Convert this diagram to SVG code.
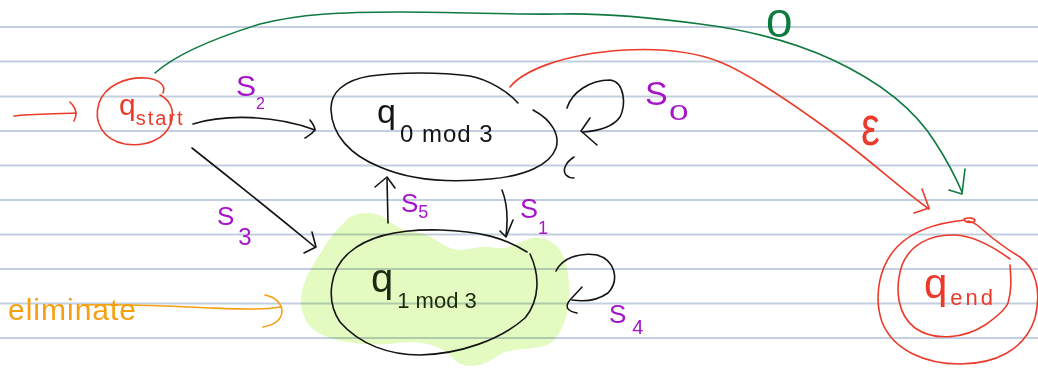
<svg xmlns="http://www.w3.org/2000/svg" width="1038" height="368" viewBox="0 0 1038 368">
  <style>
    .rule { stroke: #c3cfe0; stroke-width: 2; }
    .ink { fill: none; stroke-width: 1.6; stroke-linecap: round; stroke-linejoin: round; }
    .black { stroke: #141414; }
    .red { stroke: #ec3a2a; }
    .green { stroke: #0f7a40; }
    .orange { stroke: #f5a010; }
    .txt { font-family: "Liberation Sans", "DejaVu Sans", sans-serif; }
    .lbl { fill: #a514c9; }
    .hl { fill: #e3fac0; mix-blend-mode: multiply; }
  </style>

  <!-- lined paper -->
  <rect width="1038" height="368" fill="#ffffff"/>
  <g id="paper">
    <line class="rule" x1="0" y1="27" x2="1038" y2="27"/>
    <line class="rule" x1="0" y1="61.5" x2="1038" y2="61.5"/>
    <line class="rule" x1="0" y1="96.5" x2="1038" y2="96.5"/>
    <line class="rule" x1="0" y1="131" x2="1038" y2="131"/>
    <line class="rule" x1="0" y1="165.5" x2="1038" y2="165.5"/>
    <line class="rule" x1="0" y1="200" x2="1038" y2="200"/>
    <line class="rule" x1="0" y1="234.5" x2="1038" y2="234.5"/>
    <line class="rule" x1="0" y1="269" x2="1038" y2="269"/>
    <line class="rule" x1="0" y1="303.5" x2="1038" y2="303.5"/>
    <line class="rule" x1="0" y1="338" x2="1038" y2="338"/>
  </g>

  <!-- start state -->
  <g id="q_start">
    <path class="ink red" d="M163,93 C166,86 160,79 145,78 C125,77 105,86 99,103 C93,122 103,140 125,144 C145,147 165,140 171,123 C175,110 170,100 160,95"/>
    <text class="txt" x="119" y="115" font-size="30" fill="#ec3a2a">q<tspan font-size="20" dy="10" letter-spacing="2">start</tspan></text>
  </g>

  <!-- state q 0 mod 3 -->
  <g id="q0mod3">
    <path class="ink black" d="M518,103 C508,92 490,80 470,76 C440,72 400,72 370,76 C345,80 330,92 331,110 C332,135 350,155 380,167 C410,180 450,183 490,179 C525,176 550,165 556,148 C560,135 552,120 533,110"/>
    <text class="txt" x="377" y="123" font-size="34" fill="#141414">q<tspan font-size="24" dy="19" dx="4" letter-spacing="1">0 mod 3</tspan></text>
  </g>

  <!-- state q 1 mod 3, highlighted -->
  <g id="q1mod3">
    <path class="hl" d="M345,222 C352,212 372,210 385,218 C395,226 405,232 420,233 C435,236 443,248 458,250 C472,250 480,244 495,248 C508,250 518,242 532,238 C552,236 566,250 568,275 C572,300 566,330 552,342 C540,350 520,348 505,352 C495,356 488,366 470,366 C455,366 452,354 440,348 C425,342 410,340 390,344 C365,346 340,342 325,336 C308,330 300,315 301,298 C302,280 315,262 325,246 C332,235 338,228 345,222 Z"/>
    <path class="ink black" d="M527,252 C505,238 480,231 440,230 C400,229 370,235 350,252 C330,268 325,300 340,322 C360,345 390,355 420,355 C460,354 500,340 525,318 C540,300 540,275 530,254"/>
    <text class="txt" x="371" y="292" font-size="40" fill="#1e2a10">q<tspan font-size="22" dy="16" dx="4">1 mod 3</tspan></text>
  </g>

  <!-- accepting state -->
  <g id="q_end">
    <path class="ink red" d="M965,220 C945,222 915,228 897,247 C880,265 873,295 882,322 C893,350 925,364 960,364 C995,364 1025,350 1035,318 C1042,290 1035,268 1020,257 C1005,248 992,238 983,230 C978,226 975,222 968,221"/>
    <path class="ink red" d="M964,219 C968,217 975,218 975,221 C973,223 968,223 965,221"/>
    <path class="ink red" d="M1010,259 C995,248 975,236 955,235 C930,234 910,245 902,265 C894,290 898,315 915,328 C935,342 965,338 985,325 C998,316 1005,310 1008,303 C1012,290 1011,278 1010,265"/>
    <text class="txt" x="924" y="298" font-size="42" fill="#ec3a2a">q<tspan font-size="22" dy="7" dx="3" letter-spacing="3">end</tspan></text>
  </g>

  <!-- transitions -->
  <g id="edges">
    <!-- entry arrow -->
    <path class="ink red" d="M14,116 C30,114 55,114 76,113"/>
    <path class="ink red" d="M70,102 C74,106 76,110 76,114 C76,117 75,119 74,121"/>

    <!-- q_start to q_end, 0 -->
    <path class="ink green" d="M155,73 C175,55 215,38 260,24 C300,14 340,12 400,12 C460,12 520,15 560,14 C600,13 640,16 700,24 C740,29 790,40 833,60 C880,82 915,110 935,142 C948,162 956,178 962,192"/>
    <path class="ink green" d="M965,169 L962,194 L949,190"/>

    <!-- q0mod3 to q_end, epsilon -->
    <path class="ink red" d="M510,87 C522,72 560,54 625,50 C665,48 695,52 720,62 C745,72 785,98 833,133 C870,160 900,188 929,209"/>
    <path class="ink red" d="M922,189 L929,208 L914,213"/>

    <!-- q_start to q0mod3, S2 -->
    <path class="ink black" d="M193,124 C225,114 275,115 315,130"/>
    <path class="ink black" d="M310,120 C313,124 315,127 315,130 C312,134 308,136 305,138"/>

    <!-- q_start to q1mod3, S3 -->
    <path class="ink black" d="M192,148 C230,178 270,210 315,247"/>
    <path class="ink black" d="M312,232 L316,247 L304,253"/>

    <!-- q0mod3 self loop, S0 -->
    <path class="ink black" d="M567,108 C572,92 590,80 610,80 C625,82 626,105 620,117 C612,128 598,131 583,132"/>
    <path class="ink black" d="M590,118 L581,131 L597,145"/>
    <path class="ink black" d="M574,157 C566,162 562,170 566,175 C568,177 572,178 574,178"/>

    <!-- q1mod3 to q0mod3, S5 -->
    <path class="ink black" d="M388,223 L387,179"/>
    <path class="ink black" d="M375,187 L387,177 L395,188"/>

    <!-- q0mod3 to q1mod3, S1 -->
    <path class="ink black" d="M502,190 C508,205 508,220 506,236"/>
    <path class="ink black" d="M500,231 L506,237 L513,220"/>

    <!-- q1mod3 self loop, S4 -->
    <path class="ink black" d="M556,271 C562,258 580,252 597,255 C615,260 620,280 608,293 C598,300 585,302 572,300"/>
    <path class="ink black" d="M582,287 L570,300 C565,306 566,311 577,313"/>
  </g>

  <!-- transition labels -->
  <g id="labels" class="txt">
    <text class="lbl" x="236" y="96" font-size="30">S<tspan font-size="16" dx="0" dy="13">2</tspan></text>
    <text class="lbl" x="217" y="225" font-size="26">S<tspan font-size="24" dx="4" dy="20">3</tspan></text>
    <text class="lbl" x="401" y="212" font-size="26">S<tspan font-size="18" dx="0" dy="6">5</tspan></text>
    <text class="lbl" x="520" y="218" font-size="27">S<tspan font-size="18" dx="0" dy="16">1</tspan></text>
    <text class="lbl" x="645" y="105" font-size="34">S</text>
    <text class="lbl" transform="translate(669,120) scale(1.6,1)" font-size="22">0</text>
    <text class="lbl" x="609" y="323" font-size="26">S<tspan font-size="20" dx="6" dy="11">4</tspan></text>
    <text transform="translate(766,37) scale(1.25,1)" font-size="38" fill="#0f7a40">0</text>
    <text transform="translate(861,145) scale(0.75,1)" font-size="56" fill="#ec3a2a">ε</text>
  </g>

  <!-- eliminate annotation -->
  <g id="eliminate">
    <text class="txt" x="8" y="320" font-size="30" letter-spacing="1" fill="#f5a010">eliminate</text>
    <path class="ink orange" d="M82,305 C120,304 170,306 210,308 C240,309 265,310 280,307"/>
    <path class="ink orange" d="M265,295 C275,297 282,303 282,312 C281,320 275,325 263,327"/>
  </g>
</svg>
